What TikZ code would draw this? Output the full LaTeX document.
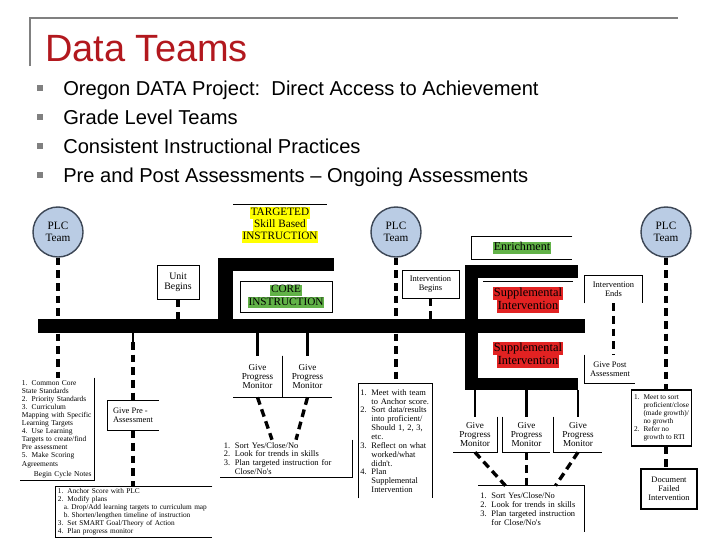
\documentclass[tikz,border=0pt]{standalone}
\usepackage{fontspec}
\setmainfont{Liberation Sans}
\newfontfamily\diagserif{Liberation Serif}
\usepackage{tikz}

\definecolor{plcblue}{RGB}{186,204,228}
\definecolor{plcedge}{RGB}{60,70,85}
\definecolor{hlyellow}{RGB}{255,255,0}
\definecolor{hlgreen}{RGB}{98,178,72}
\definecolor{hlred}{RGB}{226,34,34}
\definecolor{titlered}{RGB}{178,24,30}
\definecolor{framegray}{RGB}{128,128,128}

\newcommand{\hlbox}[2]{{\setlength{\fboxsep}{0.6pt}\colorbox{#1}{\vphantom{Ag}#2}}}
\newcommand{\stepno}[1]{\makebox[1.3em][l]{#1.}}
\newcommand{\indentcont}{\hspace*{1.3em}}

\begin{document}
\begin{tikzpicture}[
        x=0.025cm,
        y=-0.025cm,
        plc/.style={circle, draw=plcedge, line width=1pt, fill=plcblue, minimum size=1.25cm, inner sep=0pt, align=center, font=\diagserif\fontsize{8}{8.6}\selectfont},
        txtbox/.style={inner sep=1.5pt, align=center},
        bigtxt/.style={font=\diagserif\fontsize{8}{8.6}\selectfont},
        midtxt/.style={font=\diagserif\fontsize{6.5}{6.2}\selectfont},
        smalltxt/.style={font=\diagserif\fontsize{6}{6.3}\selectfont},
        minitxt/.style={font=\diagserif\fontsize{5.2}{5.7}\selectfont},
        rim/.style={line width=0.6pt},
        dashline/.style={line width=2.4pt, dash pattern=on 5.5pt off 3.5pt},
        tick/.style={line width=1.8pt},
        bullet/.style={fill=framegray, minimum size=0.15cm, inner sep=0pt}
    ]
        \useasboundingbox (0,0) rectangle (720,540);

        \draw[framegray, line width=2pt] (30,66) -- (30,18) -- (678,18);
        \node[anchor=base west, inner sep=0pt, text=titlered, font=\fontsize{27}{30}\selectfont] (title) at (45,61) {Data Teams};
        \foreach \txt [count=\i] in {Oregon DATA Project:\ \ Direct Access to Achievement, Grade Level Teams, Consistent Instructional Practices, Pre and Post Assessments -- Ongoing Assessments} {
            \node[anchor=base west, inner sep=0pt, font=\fontsize{14.3}{16}\selectfont] (item\i) at (63,66+29*\i) {\txt};
            \node[bullet] (dot\i) at (40,59+29*\i) {};
        }

        \node[fill=black, minimum width=13.675cm, minimum height=0.35cm, inner sep=0pt] (timeline) at (311.5,326) {};
        \node[fill=black, minimum width=2.825cm, minimum height=0.3cm, inner sep=0pt] (lowBar) at (521.5,384) {};
        \fill (218,258) rectangle (233,333);
        \fill (218,258) rectangle (334,271);
        \fill (465,265) rectangle (478,390);
        \fill (465,265) rectangle (578,278);

        \node[plc] (plcA) at (58,232) {PLC\\Team};
        \node[plc] (plcB) at (396,232) {PLC\\Team};
        \node[plc] (plcC) at (666,232) {PLC\\Team};

        \node[txtbox, bigtxt, minimum width=2.325cm, minimum height=0.85cm] (targeted) at (280,225) {\hlbox{hlyellow}{TARGETED}\\\hlbox{hlyellow}{Skill Based}\\\hlbox{hlyellow}{INSTRUCTION}};
        \draw[rim] (targeted.north west) -- (targeted.north east);
        \node[txtbox, bigtxt, draw, rim, minimum width=2.3cm, minimum height=0.775cm] (core) at (286,296.5) {\hlbox{hlgreen}{CORE}\\\hlbox{hlgreen}{INSTRUCTION}};
        \node[txtbox, draw, rim, font=\diagserif\fontsize{7}{7.2}\selectfont, minimum width=1.05cm, minimum height=0.85cm] (unitB) at (178,282) {Unit\\Begins};
        \node[txtbox, draw, rim, smalltxt, minimum width=1.425cm, minimum height=0.7cm] (intB) at (430.5,284) {Intervention\\Begins};

        \node[txtbox, font=\diagserif\fontsize{8.6}{9}\selectfont, minimum width=2.5cm, minimum height=0.55cm] (enrich) at (522,248) {\hlbox{hlgreen}{Enrichment}};
        \draw[rim] (enrich.north east) -- (enrich.north west) -- (enrich.south west) -- (enrich.south east);
        \node[txtbox, font=\diagserif\fontsize{8.8}{9.2}\selectfont, minimum width=2.225cm, minimum height=0.9cm] (suppA) at (528,300) {\hlbox{hlred}{Supplemental}\\\hlbox{hlred}{Intervention}};
        \draw[rim] (suppA.north west) -- (suppA.north east);
        \node[txtbox, font=\diagserif\fontsize{8.8}{9.2}\selectfont] (suppB) at (528,355) {\hlbox{hlred}{Supplemental}\\\hlbox{hlred}{Intervention}};

        \node[txtbox, smalltxt, minimum width=1.425cm, minimum height=0.675cm] (intE) at (613.5,289.5) {Intervention\\Ends};
        \draw[rim] (intE.south west) -- (intE.north west) -- (intE.north east) -- (intE.south east);
        \node[txtbox, smalltxt, minimum width=1.25cm, minimum height=0.7cm] (postA) at (610,369) {Give Post\\Assessment};
        \draw[rim] (postA.north west) -- (postA.south west) -- (postA.south east);

        \node[txtbox, font=\diagserif\fontsize{5.3}{5.75}\selectfont, align=left, text width=1.75cm, minimum height=2.55cm] (ccss) at (57,429) {\stepno{1}Common Core\\State Standards\\\stepno{2}Priority Standards\\\stepno{3}Curriculum\\Mapping with Specific\\Learning Targets\\\stepno{4}Use Learning\\Targets to create/find\\Pre assessment\\\stepno{5}Make Scoring\\Agreements\\[1.5pt]\hspace*{0.3cm}Begin Cycle Notes};
        \draw[rim] (ccss.north east) -- (ccss.south east) -- (ccss.south west);
        \node[txtbox, smalltxt, align=left, minimum width=1.275cm, minimum height=0.725cm] (preA) at (133,415.5) {Give Pre -\\Assessment};
        \draw[rim] (preA.north east) -- (preA.north west) -- (preA.south west) -- (preA.south east);
        \node[txtbox, minitxt, align=left, text width=3.8cm, minimum height=1.25cm] (anchor) at (134,512) {\stepno{1}Anchor Score with PLC\\\stepno{2}Modify plans\\\hspace*{0.8em}a.\ Drop/Add learning targets to curriculum map\\\hspace*{0.8em}b.\ Shorten/lengthen timeline of instruction\\\stepno{3}Set SMART Goal/Theory of Action\\\stepno{4}Plan progress monitor};
        \draw[rim] (anchor.north east) -- (anchor.north west) -- (anchor.south west) -- (anchor.south east);

        \node[txtbox, midtxt, minimum width=1.225cm, minimum height=1.025cm] (gpmA) at (257.5,376.5) {Give\\Progress\\Monitor};
        \draw[rim] (gpmA.north east) -- (gpmA.south east) -- (gpmA.south west);
        \node[txtbox, midtxt, minimum width=1.225cm, minimum height=1.025cm] (gpmB) at (307.5,376.5) {Give\\Progress\\Monitor};
        \draw[rim] (gpmB.north west) -- (gpmB.south west) -- (gpmB.south east);
        \node[txtbox, smalltxt, align=left, text width=3.1cm, minimum width=3.3cm, minimum height=0.925cm] (sortA) at (286,458.5) {\stepno{1}Sort Yes/Close/No\\\stepno{2}Look for trends in skills\\\stepno{3}Plan targeted instruction for\\\indentcont Close/No's};
        \draw[rim] (sortA.north east) -- (sortA.south east) -- (sortA.south west);

        \node[txtbox, smalltxt, align=left, text width=1.75cm, minimum height=2.85cm] (meetA) at (395.5,441) {\stepno{1}Meet with team\\\indentcont to Anchor score.\\\stepno{2}Sort data/results\\\indentcont into proficient/\\\indentcont Should 1, 2, 3,\\\indentcont etc.\\\stepno{3}Reflect on what\\\indentcont worked/what\\\indentcont didn't.\\\stepno{4}Plan\\\indentcont Supplemental\\\indentcont Intervention};
        \draw[rim] (meetA.south west) -- (meetA.north west) -- (meetA.north east) -- (meetA.south east);

        \node[txtbox, midtxt, minimum width=1.1cm, minimum height=0.875cm] (gpmC) at (475,434.5) {Give\\Progress\\Monitor};
        \draw[rim] (gpmC.north east) -- (gpmC.south east) -- (gpmC.south west);
        \node[txtbox, midtxt, minimum width=1.175cm, minimum height=0.875cm] (gpmD) at (526.5,434.5) {Give\\Progress\\Monitor};
        \draw[rim] (gpmD.north west) -- (gpmD.south west) -- (gpmD.south east);
        \node[txtbox, midtxt, minimum width=1.2cm, minimum height=0.875cm] (gpmE) at (578,434.5) {Give\\Progress\\Monitor};
        \draw[rim] (gpmE.north west) -- (gpmE.south west) -- (gpmE.south east);
        \node[txtbox, smalltxt, align=left, text width=2.55cm, minimum height=1.15cm] (sortB) at (531.5,509) {\stepno{1}Sort Yes/Close/No\\\stepno{2}Look for trends in skills\\\stepno{3}Plan targeted instruction\\\indentcont for Close/No's};
        \draw[rim] (sortB.north west) -- (sortB.north east) -- (sortB.south east);

        \node[txtbox, draw, line width=0.8pt, minitxt, align=left, minimum width=1.325cm, minimum height=1.4cm] (meetB) at (661.5,418) {\stepno{1}Meet to sort\\\indentcont proficient/close\\\indentcont (made growth)/\\\indentcont no growth\\\stepno{2}Refer no\\\indentcont growth to RTI};
        \node[txtbox, draw, line width=0.8pt, smalltxt, minimum width=1.4cm, minimum height=1cm] (docF) at (669,489) {Document\\Failed\\Intervention};

        \draw[dashline] (plcA.south) -- (plcA.south |- ccss.north);
        \draw[dashline] (unitB.south) -- (unitB.south |- timeline.north);
        \coordinate (preTick) at (133,342);
        \draw[tick] (preTick |- timeline.south) -- (preTick);
        \draw[dashline] (preTick) -- (preA.north);
        \draw[dashline] (preA.south) -- (preA.south |- anchor.north);
        \draw[tick] (gpmA.north |- timeline.south) -- (gpmA.north);
        \draw[tick] (gpmB.north |- timeline.south) -- (gpmB.north);
        \draw[dashline] (gpmA.south) -- ([xshift=-0.35cm]sortA.north);
        \draw[dashline] (gpmB.south) -- ([xshift=0.25cm]sortA.north);
        \draw[dashline] (plcB.south) -- (plcB.south |- meetA.north);
        \draw[dashline] (intB.south) -- (intB.south |- timeline.north);
        \draw[dashline] (intE.south) -- (intE.south |- postA.north);
        \draw[tick] (gpmC.north |- lowBar.south) -- (gpmC.north);
        \draw[tick] (gpmD.north |- lowBar.south) -- (gpmD.north);
        \draw[tick] (gpmE.north |- lowBar.south) -- (gpmE.north);
        \draw[dashline] (gpmC.south) -- ([xshift=-0.65cm]sortB.north);
        \draw[dashline] (gpmD.south) -- (gpmD.south |- sortB.north);
        \draw[dashline] (gpmE.south) -- ([xshift=0.6cm]sortB.north);
        \draw[dashline] (plcC.south) -- (plcC.south |- meetB.north);
        \draw[dashline] (meetB.south -| plcC.south) -- (plcC.south |- docF.north);
    \end{tikzpicture}
\end{document}
